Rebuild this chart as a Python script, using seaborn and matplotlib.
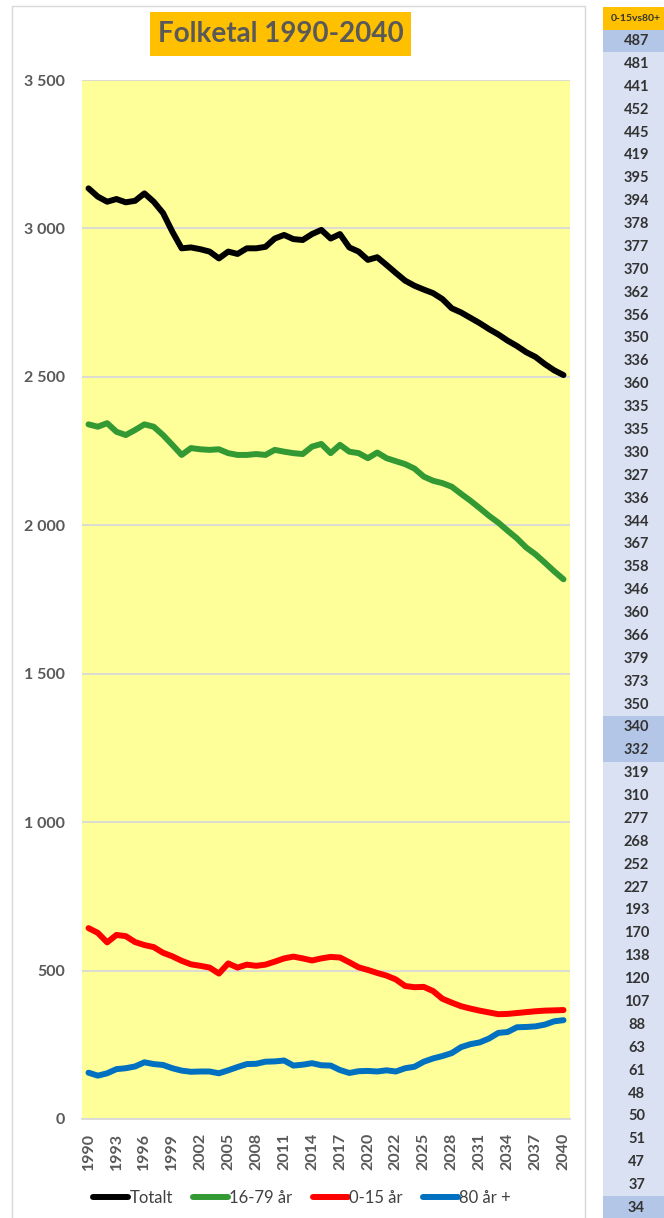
import matplotlib
matplotlib.use("Agg")
import matplotlib.pyplot as plt
from matplotlib.patches import Rectangle
import seaborn as sns
import pandas as pd

# x-axis categories (2021 appears twice in the source sheet)
years = [1990, 1991, 1992, 1993, 1994, 1995, 1996, 1997, 1998, 1999,
         2000, 2001, 2002, 2003, 2004, 2005, 2006, 2007, 2008, 2009,
         2010, 2011, 2012, 2013, 2014, 2015, 2016, 2017, 2018, 2019,
         2020, 2021, 2021, 2022, 2023, 2024, 2025, 2026, 2027, 2028,
         2029, 2030, 2031, 2032, 2033, 2034, 2035, 2036, 2037, 2038,
         2039, 2040]

totalt = [3135, 3107, 3090, 3099, 3088, 3093, 3118, 3090, 3052, 2989,
          2933, 2936, 2930, 2922, 2899, 2922, 2914, 2933, 2933, 2938,
          2966, 2978, 2964, 2961, 2981, 2995, 2966, 2981, 2936, 2922,
          2894, 2903, 2877, 2850, 2824, 2807, 2794, 2782, 2762, 2731,
          2717, 2699, 2681, 2661, 2643, 2622, 2604, 2583, 2567, 2543,
          2522, 2506]

aar_16_79 = [2340, 2332, 2344, 2315, 2304, 2321, 2340, 2332, 2304, 2271,
             2237, 2260, 2256, 2254, 2256, 2243, 2237, 2237, 2240, 2237,
             2254, 2248, 2243, 2240, 2265, 2274, 2243, 2271, 2248, 2243,
             2226, 2245, 2226, 2216, 2206, 2191, 2164, 2150, 2142, 2130,
             2106, 2083, 2058, 2032, 2009, 1982, 1956, 1925, 1902, 1874,
             1845, 1818]

aar_0_15 = [643, 627, 595, 620, 616, 596, 586, 579, 560, 548,
            533, 521, 516, 510, 490, 524, 510, 520, 516, 520,
            530, 541, 547, 541, 534, 541, 546, 544, 528, 511,
            502, 492, 483, 470, 448, 444, 445, 431, 405, 392,
            380, 372, 365, 359, 353, 354, 357, 360, 363, 365,
            366, 367]

aar_80 = [156, 146, 154, 168, 171, 177, 191, 185, 182, 171,
          163, 159, 160, 160, 154, 164, 175, 185, 186, 193,
          194, 197, 180, 183, 188, 181, 180, 165, 155, 161,
          162, 160, 164, 160, 171, 176, 193, 204, 212, 222,
          242, 252, 258, 271, 290, 293, 309, 310, 312, 318,
          329, 333]

# side column from the sheet: 0-15 vs 80+
diff_0_15_vs_80 = [487, 481, 441, 452, 445, 419, 395, 394, 378, 377,
                   370, 362, 356, 350, 336, 360, 335, 335, 330, 327,
                   336, 344, 367, 358, 346, 360, 366, 379, 373, 350,
                   340, 332, 319, 310, 277, 268, 252, 227, 193, 170,
                   138, 120, 107, 88, 63, 61, 48, 50, 51, 47,
                   37, 34]
marked_rows = [0, 30, 31, 51]

series = {
    'Totalt': totalt,
    '16-79 år': aar_16_79,
    '0-15 år': aar_0_15,
    '80 år +': aar_80,
}
palette = {
    'Totalt': '#000000',
    '16-79 år': '#339933',
    '0-15 år': '#FF0000',
    '80 år +': '#0070C0',
}

rows = []
for name, vals in series.items():
    for i, v in enumerate(vals):
        rows.append([i, v, name])
df = pd.DataFrame(rows, columns=['Pos', 'Antal', 'Serie'])

sns.set_style("white")
plt.rcParams['font.family'] = ['Lato', 'DejaVu Sans']

W, H = 664, 1218
fig = plt.figure(figsize=(W / 100, H / 100), dpi=100)

# chart frame
fig.patches.append(Rectangle((12 / W, -0.01), 573 / W, (H - 6) / H + 0.01,
                             transform=fig.transFigure, fill=False,
                             edgecolor='#d9d9d9', lw=1))

ax = fig.add_axes([82 / W, 1 - 1119 / H, (570 - 82) / W, (1119 - 80) / H])
ax.set_facecolor('#FFFF99')

sns.lineplot(data=df, x='Pos', y='Antal', hue='Serie', palette=palette,
             lw=4.3, ax=ax, solid_capstyle='round', solid_joinstyle='round')

ax.set_xlim(-0.7, 51.7)
ax.set_ylim(0, 3500)
ax.set_yticks(range(0, 3501, 500))
ax.set_yticklabels([f"{v:,}".replace(',', ' ') for v in range(0, 3501, 500)])
ax.set_xticks(range(0, len(years), 3))
ax.set_xticklabels([str(y) for y in years[::3]], rotation=90)
ax.yaxis.grid(True, color='#d9d9d9', lw=1.3)
ax.set_axisbelow(True)
for s in ['top', 'right', 'left']:
    ax.spines[s].set_visible(False)
ax.spines['bottom'].set_color('#d9d9d9')
ax.spines['bottom'].set_linewidth(1.3)
ax.tick_params(axis='y', length=0, pad=12, labelsize=11.5, labelcolor='#595959')
ax.tick_params(axis='x', length=0, pad=10, labelsize=11.5, labelcolor='#595959')
for lab in ax.get_xticklabels() + ax.get_yticklabels():
    lab.set_fontweight('bold')
ax.set_xlabel("")
ax.set_ylabel("")

handles, labels = ax.get_legend_handles_labels()
ax.get_legend().remove()
fig.legend(handles, labels, loc='center', bbox_to_anchor=(302 / W, 1 - 1198 / H),
           ncol=4, frameon=False, fontsize=12, handlelength=2.1,
           handletextpad=0.1, columnspacing=1.2, labelcolor='#404040')

# title box
fig.patches.append(Rectangle((150 / W, 1 - 56 / H), 261 / W, 44 / H,
                             transform=fig.transFigure, facecolor='#FFC000',
                             edgecolor='none'))
fig.text(281 / W, 1 - 34 / H, "Folketal 1990-2040", ha='center', va='center',
         fontsize=20, fontweight='bold', color='#595959')

# side column
tab = fig.add_axes([603 / W, 0, 61 / W, (H - 6.7) / H])
tab.set_xlim(0, 1)
tab.set_ylim(-1.5 + (H - 6.7) / 22.88, -1.5)
tab.axis('off')
tab.add_patch(Rectangle((0, -1.5), 1, 1, facecolor='#FFC000', edgecolor='none'))
tab.text(0.53, -1, "0-15vs80+", ha='center', va='center', fontsize=7.5,
         fontweight='bold', color='#333333')
for i, v in enumerate(diff_0_15_vs_80):
    fc = '#B4C6E7' if i in marked_rows else '#D9E1F2'
    tab.add_patch(Rectangle((0, i - 0.5), 1, 1, facecolor=fc, edgecolor='none'))
    tab.text(0.55, i, str(v), ha='center', va='center', fontsize=10.5,
             fontweight='bold', color='#333333',
             fontstyle='italic' if i == 31 else 'normal')

fig.savefig('out.png', dpi=100)
